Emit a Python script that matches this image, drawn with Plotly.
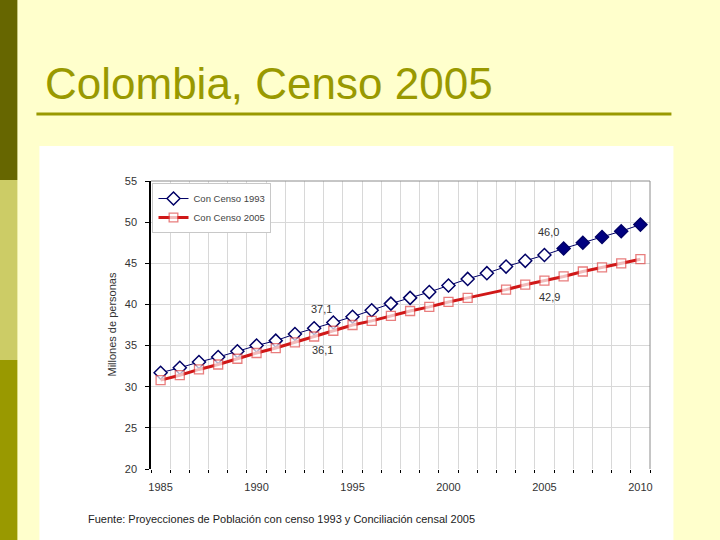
import plotly.graph_objects as go

# ---------------- data ----------------
years = list(range(1985, 2011))
censo_1993 = [31.7, 32.3, 33.0, 33.6, 34.3, 35.0, 35.6, 36.4, 37.1, 37.8,
              38.5, 39.3, 40.1, 40.8, 41.5, 42.3, 43.1, 43.8, 44.6, 45.3,
              46.0, 46.8, 47.5, 48.2, 48.9, 49.7]
censo_2005 = [30.8, 31.4, 32.1, 32.7, 33.4, 34.1, 34.7, 35.4, 36.1, 36.8,
              37.5, 38.0, 38.6, 39.2, 39.7, 40.3, 40.8, 41.3, 41.8, 42.4,
              42.9, 43.4, 44.0, 44.5, 45.0, 45.5]
x_ticks = [1985, 1990, 1995, 2000, 2005, 2010]
y_ticks = [20, 25, 30, 35, 40, 45, 50, 55]
label_points = [  # (year, series, text)
    (1993, "1993", "37,1"), (1993, "2005", "36,1"),
    (2005, "1993", "46,0"), (2005, "2005", "42,9"),
]

# ---------------- layout geometry (pixels) ----------------
W, H = 720, 540
L, R, T, B = 151.4, 649.6, 181, 469


def xp(px):
    return (px - L) / (R - L)


def yp(py):
    return (B - py) / (B - T)


OLIVE = "#999900"
NAVY = "#000066"
RED = "#D01818"
TXT = "#333333"

dia_fill = ["white" if y <= 2005 else "#000080" for y in years]
sq_size = [0 if y == 2002 else 9 for y in years]

fig = go.Figure()
fig.add_trace(go.Scatter(
    x=years, y=censo_1993, name="Con Censo 1993", mode="lines+markers",
    line=dict(color=NAVY, width=1),
    marker=dict(symbol="diamond", size=10, color=dia_fill,
                line=dict(color=NAVY, width=1.5)),
))
fig.add_trace(go.Scatter(
    x=years, y=censo_2005, name="Con Censo 2005", mode="lines+markers",
    line=dict(color=RED, width=3),
    marker=dict(symbol="square", size=sq_size, color="white",
                line=dict(color="#E04848", width=1.3)),
))

series = {"1993": censo_1993, "2005": censo_2005}
shifts = {("1993", 1993): (7, 19), ("2005", 1993): (8, -13),
          ("1993", 2005): (4, 23), ("2005", 2005): (5, -16)}
annotations = []
for yr, s, txt in label_points:
    v = series[s][years.index(yr)]
    dx, dy = shifts[(s, yr)]
    annotations.append(dict(x=yr, y=v, xref="x", yref="y", text=txt,
                            showarrow=False, xshift=dx, yshift=dy,
                            font=dict(family="Liberation Sans, Arial", size=11, color=TXT)))

# title
annotations.append(dict(x=xp(44), y=yp(83), xref="paper", yref="paper",
                        text="Colombia, Censo 2005", showarrow=False,
                        xanchor="left", yanchor="middle",
                        font=dict(family="Liberation Sans, Arial", size=44, color=OLIVE)))
# y axis title
annotations.append(dict(x=xp(112), y=yp(325), xref="paper", yref="paper",
                        text="Millones de personas", showarrow=False, textangle=-90,
                        xanchor="center", yanchor="middle",
                        font=dict(family="Liberation Sans, Arial", size=11, color=TXT)))
# source
annotations.append(dict(x=xp(87), y=yp(519), xref="paper", yref="paper",
                        text="Fuente: Proyecciones de Población con censo 1993 y Conciliación censal 2005",
                        showarrow=False, xanchor="left", yanchor="middle",
                        font=dict(family="Liberation Sans, Arial", size=11, color="#222222")))

shapes = [
    # white chart image area
    dict(type="rect", xref="paper", yref="paper", x0=xp(40), x1=xp(673), y0=yp(540), y1=yp(146),
         fillcolor="white", line=dict(width=0), layer="below"),
    # left bars
    dict(type="rect", xref="paper", yref="paper", x0=xp(0), x1=xp(18), y0=yp(180), y1=yp(0),
         fillcolor="#666600", line=dict(width=0), layer="below"),
    dict(type="rect", xref="paper", yref="paper", x0=xp(0), x1=xp(18), y0=yp(360), y1=yp(180),
         fillcolor="#CCCC66", line=dict(width=0), layer="below"),
    dict(type="rect", xref="paper", yref="paper", x0=xp(0), x1=xp(18), y0=yp(540), y1=yp(360),
         fillcolor="#999900", line=dict(width=0), layer="below"),
    # title underline
    dict(type="line", xref="paper", yref="paper", x0=xp(37), x1=xp(671), y0=yp(114), y1=yp(114),
         line=dict(color=OLIVE, width=3)),
    # plot border top and right
    dict(type="line", xref="paper", yref="paper", x0=0, x1=1, y0=1, y1=1,
         line=dict(color="#8C8C8C", width=1)),
    dict(type="line", xref="paper", yref="paper", x0=1, x1=1, y0=0, y1=1,
         line=dict(color="#8C8C8C", width=1)),
]

fig.update_layout(
    width=W, height=H,
    margin=dict(l=L, r=W - R, t=T, b=H - B, pad=0),
    paper_bgcolor="#FFFFCC", plot_bgcolor="white",
    font=dict(family="Liberation Sans, Arial", size=11, color=TXT),
    showlegend=True,
    legend=dict(x=0.003, y=0.993, xanchor="left", yanchor="top",
                bgcolor="white", bordercolor="#C8C8C8", borderwidth=1,
                font=dict(size=9.5, color="#444444"), itemwidth=30,
                tracegroupgap=0),
    annotations=annotations,
    shapes=shapes,
    xaxis=dict(range=[1984.5, 2010.5], tickmode="array", tickvals=x_ticks,
               ticks="", showgrid=False, showline=False, zeroline=False,
               ticklabelstandoff=10,
               tickfont=dict(size=11, color=TXT),
               minor=dict(tick0=1984.5, dtick=1, ticks="outside", ticklen=3,
                          tickcolor="black", showgrid=True, gridcolor="#D8D8D8",
                          gridwidth=1)),
    yaxis=dict(range=[20, 55], tickmode="array", tickvals=y_ticks,
               ticks="outside", ticklen=4, tickcolor="black",
               showline=True, linecolor="black", linewidth=1.5,
               showgrid=True, gridcolor="#D8D8D8", zeroline=False,
               ticklabelstandoff=6,
               tickfont=dict(size=11, color=TXT)),
)

fig.write_html(
    "out.html",
    config={"displayModeBar": False},
    post_script="document.body.style.margin='0';document.body.style.background='#FFFFCC';",
)
